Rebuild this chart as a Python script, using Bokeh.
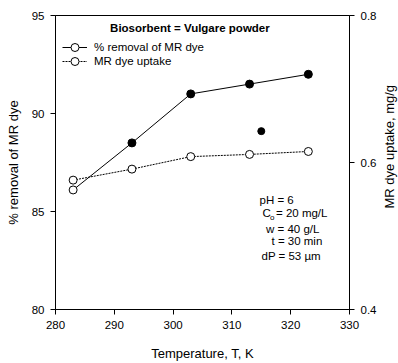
import math
from bokeh.plotting import figure
from bokeh.layouts import row
from bokeh.models import (LinearAxis, Range1d, FixedTicker, Label, Legend,
                          LegendItem)
from bokeh.embed import file_html
from bokeh.resources import INLINE

# ---------------- data ----------------
temperature = [283, 293, 303, 313, 323]
removal_pct = [86.1, 88.5, 91.0, 91.5, 92.0]
uptake_mg_g = [0.576, 0.591, 0.608, 0.611, 0.615]
stray_temperature = [315]
stray_removal = [89.1]

x_ticks = [280, 290, 300, 310, 320, 330]
left_ticks = [80, 85, 90, 95]
right_ticks = [0.4, 0.6, 0.8]

title_text = "Biosorbent = Vulgare  powder"
legend_labels = ["% removal of MR dye", "MR dye uptake"]
x_title = "Temperature, T, K"
left_title = "% removal of MR dye"
right_title = "MR dye uptake, mg/g"

# ---------------- layout ----------------
W, H = 398, 363
SIDE_W = 18                      # strip holding the right axis title
MAIN_W = W - SIDE_W
BL, BR, BT, BB = 55, 31, 15, 54
FW, FH = MAIN_W - BL - BR, H - BT - BB
X0, X1 = 280, 330
Y0, Y1 = 80, 95
FONT = "Liberation Sans"
FS = "11.5px"
FT = "13px"


def dx(px):
    return X0 + (px - BL) * (X1 - X0) / FW


def dy(py):
    return Y1 - (py - BT) * (Y1 - Y0) / FH


p = figure(width=MAIN_W, height=H, x_range=Range1d(X0, X1),
           y_range=Range1d(Y0, Y1), output_backend="svg", toolbar_location=None,
           min_border_left=BL, min_border_right=BR,
           min_border_top=BT, min_border_bottom=BB)
p.extra_y_ranges = {"up": Range1d(0.4, 0.8)}
p.xgrid.visible = False
p.ygrid.visible = False
p.outline_line_color = "black"
p.outline_line_width = 1
p.background_fill_color = "white"
p.border_fill_color = "white"

right_axis = LinearAxis(y_range_name="up")
p.add_layout(right_axis, "right")


def style_axis(ax, ticks, label, standoff):
    ax.ticker = FixedTicker(ticks=ticks)
    if label:
        ax.axis_label = label
    ax.axis_label_text_font = FONT
    ax.axis_label_text_font_size = FT
    ax.axis_label_text_font_style = "normal"
    ax.axis_label_text_color = "black"
    ax.axis_label_standoff = standoff
    ax.major_label_text_font = FONT
    ax.major_label_text_font_size = FS
    ax.major_label_text_color = "black"
    ax.major_label_standoff = 6
    ax.major_tick_in = 0
    ax.major_tick_out = 5
    ax.minor_tick_in = 0
    ax.minor_tick_out = 0
    ax.axis_line_color = "black"
    ax.major_tick_line_color = "black"


style_axis(p.xaxis[0], x_ticks, x_title, 14)
style_axis(p.yaxis[0], left_ticks, left_title, 8)
style_axis(right_axis, right_ticks, None, 8)

# ---------------- series ----------------
r_line = p.line(temperature, removal_pct, line_color="black", line_width=1)
u_line = p.line(temperature, uptake_mg_g, y_range_name="up", line_color="black",
                line_width=1, line_dash="2 1")
r_fill = p.scatter(temperature[1:], removal_pct[1:], marker="circle", size=8,
                   fill_color="black", line_color="black")
r_open = p.scatter(temperature[:1], removal_pct[:1], marker="circle", size=8,
                   fill_color="white", line_color="black")
p.scatter(stray_temperature, stray_removal, marker="circle", size=7,
          fill_color="black", line_color="black")
u_sc = p.scatter(temperature, uptake_mg_g, y_range_name="up", marker="circle",
                 size=8, fill_color="white", line_color="black")


def make_legend(label, renderers, centre_py):
    lg = Legend(items=[LegendItem(label=label, renderers=renderers)],
                location=(7, BT + FH - (centre_py + 10)), margin=0, padding=0,
                spacing=0, glyph_width=25, glyph_height=20, label_height=14,
                label_standoff=7, label_text_font=FONT, label_text_font_size=FS,
                label_text_color="black", border_line_alpha=0,
                background_fill_alpha=0)
    p.add_layout(lg)


make_legend(legend_labels[0], [r_line, r_open], 46.7)
make_legend(legend_labels[1], [u_line, u_sc], 60.7)

# ---------------- texts ----------------
p.add_layout(Label(x=dx(191), y=dy(27), text=title_text, text_align="center",
                   text_baseline="middle", text_font=FONT, text_font_size=FS,
                   text_font_style="bold", text_color="black"))


def note(px, py, txt, size=FS):
    p.add_layout(Label(x=dx(px), y=dy(py), text=txt, text_align="left",
                       text_baseline="middle", text_font=FONT,
                       text_font_size=size, text_color="black"))


note(259, 199, "pH = 6")
note(262, 212.5, "C")
note(269.5, 216.5, "o", "8px")
note(275.5, 212.5, "= 20 mg/L")
note(265.5, 228, "w = 40 g/L")
note(271, 240.5, "t = 30 min")
note(261, 255, "dP = 53 \u00b5m")

# ---------------- right axis title strip ----------------
side = figure(width=SIDE_W, height=H, x_range=Range1d(0, SIDE_W),
              y_range=Range1d(0, H), output_backend="svg", toolbar_location=None,
              min_border=0)
side.axis.visible = False
side.grid.visible = False
side.outline_line_color = None
side.background_fill_color = "white"
side.border_fill_color = "white"
side.add_layout(Label(x=389.0 - MAIN_W, y=H - (BT + FH / 2), text=right_title,
                      angle=math.pi / 2, text_align="center",
                      text_baseline="middle", text_font=FONT,
                      text_font_size=FT, text_color="black"))

layout = row(p, side, spacing=0)
open("out.html", "w").write(file_html(layout, INLINE))
